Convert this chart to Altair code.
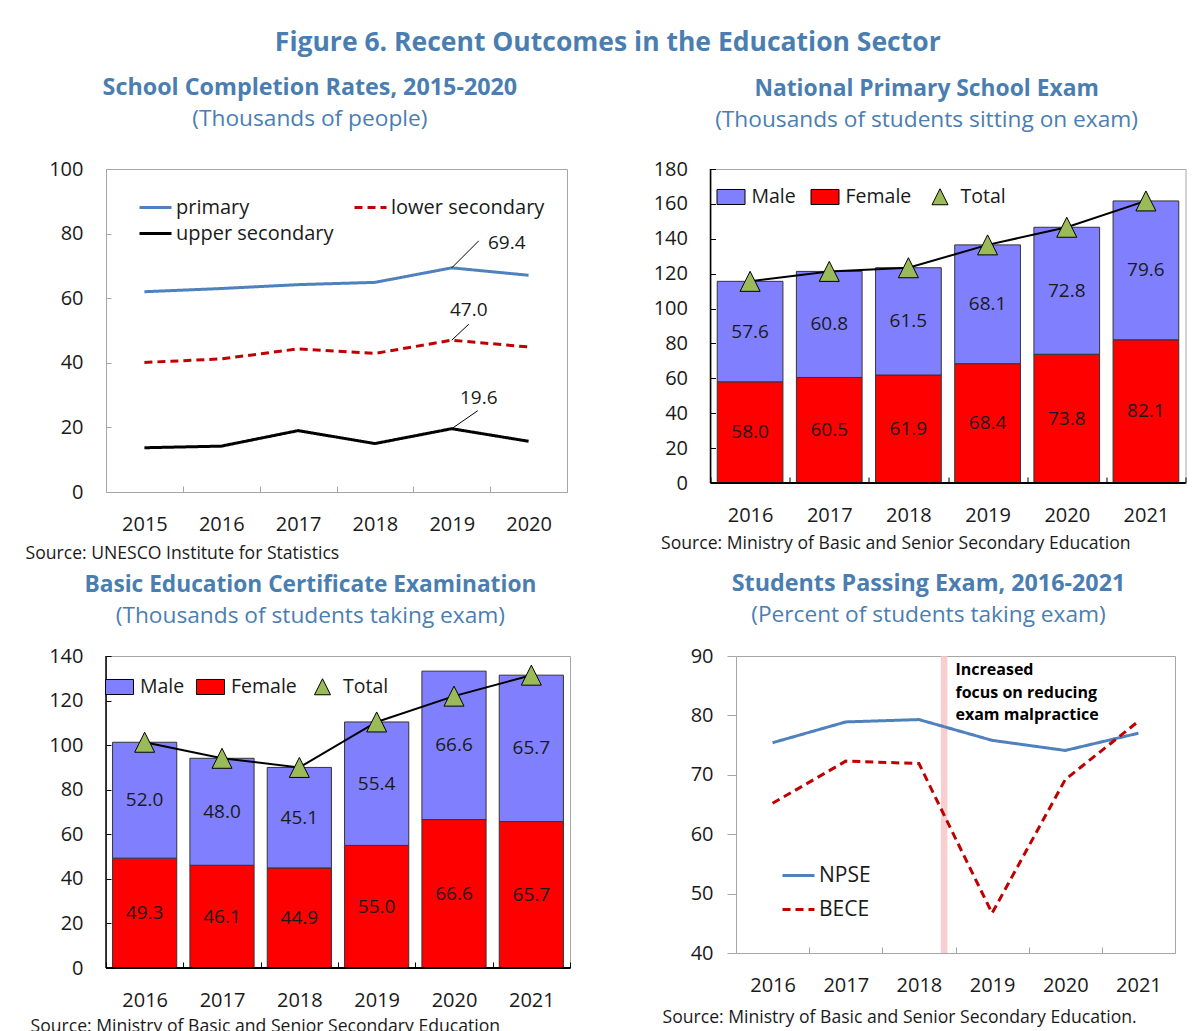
import altair as alt
import pandas as pd

FONT = "Open Sans"
TITLE_BLUE = "#4A7EB1"
FRAME_GRAY = "#A6A6A6"
TEXT = "#1A1A1A"

# ---------------- data ----------------
# Panel 1: School completion rates (thousands of people)
years_p1 = ["2015", "2016", "2017", "2018", "2019", "2020"]
series_p1 = ["primary", "upper secondary", "lower secondary"]
primary = [62.0, 63.0, 64.2, 64.9, 69.4, 67.1]
upper_secondary = [13.7, 14.2, 19.0, 15.0, 19.6, 15.7]
lower_secondary = [40.1, 41.2, 44.3, 42.9, 47.0, 44.9]
label_year_p1 = "2019"

# Panel 2: National Primary School Exam (thousands sitting)
years_p2 = ["2016", "2017", "2018", "2019", "2020", "2021"]
npse_male = [57.6, 60.8, 61.5, 68.1, 72.8, 79.6]
npse_female = [58.0, 60.5, 61.9, 68.4, 73.8, 82.1]
npse_total = [115.6, 121.3, 123.4, 136.5, 146.6, 161.7]

# Panel 3: Basic Education Certificate Examination (thousands taking)
years_p3 = ["2016", "2017", "2018", "2019", "2020", "2021"]
bece_male = [52.0, 48.0, 45.1, 55.4, 66.6, 65.7]
bece_female = [49.3, 46.1, 44.9, 55.0, 66.6, 65.7]
bece_total = [101.3, 94.1, 90.0, 110.4, 122.0, 131.4]

# Panel 4: Students passing exam (percent)
years_p4 = ["2016", "2017", "2018", "2019", "2020", "2021"]
series_p4 = ["NPSE", "BECE"]
pass_npse = [75.4, 78.9, 79.3, 75.8, 74.1, 77.0]
pass_bece = [65.2, 72.3, 71.9, 46.7, 69.2, 79.0]
event_start = [2018.30]
event_end = [2018.39]
event_text = ["Increased", "focus on reducing", "exam malpractice"]

series_bar = ["Male", "Female", "Total"]

# ---------------- helpers ----------------
def panel_title(text, sub, dx, offset, size=23.3):
    return alt.TitleParams(
        text=text, subtitle=sub, anchor="middle", frame="group", dx=dx, offset=offset,
        fontSize=size, fontWeight="bold", color=TITLE_BLUE,
        subtitleFontSize=22.7, subtitleFontWeight="normal", subtitleColor=TITLE_BLUE,
        subtitlePadding=8, font=FONT, subtitleFont=FONT,
    )


def x_band_axis(source, title_x, title_y, tick_color):
    return alt.Axis(
        title=source, labelAngle=0, domain=False, ticks=True, tickBand="extent",
        tickSize=6, offset=-6, tickColor=tick_color, labelPadding=22,
        labelFontSize=20, labelColor=TEXT, titleAnchor="start", titleAlign="left",
        titleX=title_x, titleY=title_y, titleFontSize=17.6, titleFontWeight="normal",
        titleColor=TEXT, titleBaseline="middle",
    )


def y_in_axis(values, tick_color):
    return alt.Axis(
        values=values, title=None, domain=False, grid=False, tickSize=5, offset=-5,
        tickColor=tick_color, labelPadding=23, labelFontSize=20, labelColor=TEXT,
        labelOverlap=False,
    )


rect_path = "M-0.875,-0.47H0.875V0.47H-0.875Z"
tri_path = "M0,-0.5L0.5,0.5L-0.5,0.5Z"
bar_colors = alt.Scale(domain=series_bar, range=["#8080FF", "#FF0000", "#9BBB59"])
bar_shapes = alt.Scale(domain=series_bar, range=[rect_path, rect_path, tri_path])

# ---------------- panel 1 ----------------
df1 = pd.DataFrame({
    "year": years_p1 * 3,
    "series": [s for s in series_p1 for _ in years_p1],
    "value": primary + upper_secondary + lower_secondary,
})
W1, H1 = 461, 323
x1 = alt.X("year:N", sort=years_p1, scale=alt.Scale(paddingInner=0, paddingOuter=0),
           axis=x_band_axis("Source: UNESCO Institute for Statistics", -81, 67, FRAME_GRAY))
y1 = alt.Y("value:Q", scale=alt.Scale(domain=[0, 100], nice=False),
           axis=y_in_axis([0, 20, 40, 60, 80, 100], FRAME_GRAY))
leg1 = alt.Legend(title=None, orient="none", legendX=32, legendY=28, columns=2,
                  labelFontSize=20, labelColor=TEXT, symbolType="stroke", symbolSize=1024,
                  symbolStrokeWidth=3, labelOffset=3, columnPadding=19, rowPadding=5,
                  clipHeight=21, labelLimit=400)
base1 = alt.Chart(df1).encode(x=x1, y=y1)
lines1 = base1.mark_line(strokeWidth=3).encode(
    color=alt.Color("series:N", scale=alt.Scale(domain=series_p1, range=["#4F81BD", "#000000", "#C00000"]), legend=leg1),
    strokeDash=alt.StrokeDash("series:N", scale=alt.Scale(domain=series_p1, range=[[1, 0], [1, 0], [8, 5]]), legend=leg1),
)
ann_specs = [("primary", 55, -25, 27, -27), ("lower secondary", 17, -30, 17, -16), ("upper secondary", 27, -31, 26, -18)]
ann_layers = []
for s, tdx, tdy, lx, ly in ann_specs:
    f = (alt.datum.series == s) & (alt.datum.year == label_year_p1)
    ann_layers.append(base1.mark_rule(color="black", strokeWidth=1, x2Offset=lx, y2Offset=ly)
                      .encode(x2="year:N", y2="value:Q").transform_filter(f))
    ann_layers.append(base1.mark_text(dx=tdx, dy=tdy, fontSize=19, color=TEXT)
                      .encode(text=alt.Text("value:Q", format=".1f")).transform_filter(f))
p1 = alt.layer(lines1, *ann_layers).properties(
    width=W1, height=H1,
    title=panel_title("School Completion Rates, 2015-2020", "(Thousands of people)", -26.6, 27.5),
)

# ---------------- bar panels ----------------
def bar_panel(years, male, female, total, ymax, width, height, src_x, src_y, title, sub, dx,
              offset, tsize, leg_x, leg_y, leg_pad):
    bars = pd.DataFrame({
        "year": years * 2,
        "series": ["Female"] * len(years) + ["Male"] * len(years),
        "value": female + male,
        "ord": [0] * len(years) + [1] * len(years),
        "mid": [f / 2 for f in female] + [f + m / 2 for f, m in zip(female, male)],
    })
    tot = pd.DataFrame({"year": years, "series": ["Total"] * len(years), "total": total})
    xaxis = x_band_axis("Source: Ministry of Basic and Senior Secondary Education", src_x, src_y, "black")
    xscale = alt.Scale(paddingInner=0, paddingOuter=0)
    yscale = alt.Scale(domain=[0, ymax], nice=False)
    yaxis = y_in_axis(list(range(0, ymax + 1, 20)), "black")

    def X():
        return alt.X("year:N", sort=years, scale=xscale, axis=xaxis)

    def Y(field, **kw):
        return alt.Y(field, scale=yscale, axis=yaxis, **kw)

    leg = alt.Legend(title=None, orient="none", legendX=leg_x, legendY=leg_y, direction="horizontal",
                     labelFontSize=19.5, labelColor=TEXT, symbolSize=1024, symbolStrokeColor="black",
                     symbolStrokeWidth=1, labelOffset=4, columnPadding=leg_pad, labelLimit=300)
    b = alt.Chart(bars).mark_bar(width={"band": 0.83}, stroke="#333333", strokeWidth=1).encode(
        x=X(), y=Y("value:Q", stack="zero"),
        color=alt.Color("series:N", scale=bar_colors, legend=leg),
        order=alt.Order("ord:Q"),
    )
    t = alt.Chart(bars).mark_text(fontSize=19, color=TEXT).encode(
        x=X(), y=Y("mid:Q"), text=alt.Text("value:Q", format=".1f"))
    ln = alt.Chart(tot).mark_line(color="black", strokeWidth=2).encode(x=X(), y=Y("total:Q"))
    pt = alt.Chart(tot).mark_point(filled=True, stroke="black", strokeWidth=1, size=1600, opacity=1).encode(
        x=X(), y=Y("total:Q"),
        color=alt.Color("series:N", scale=bar_colors, legend=leg),
        shape=alt.Shape("series:N", scale=bar_shapes, legend=leg),
    )
    one = pd.DataFrame({"a": [0]})
    left = alt.Chart(one).mark_rule(color="black", strokeWidth=1.5).encode(x=alt.value(0))
    bottom = alt.Chart(one).mark_rule(color="black", strokeWidth=2).encode(y=Y("a:Q"))
    return alt.layer(b, t, ln, pt, left, bottom).properties(
        width=width, height=height, title=panel_title(title, sub, dx, offset, tsize))


p2 = bar_panel(years_p2, npse_male, npse_female, npse_total, 180, 475, 314, -50, 66,
               "National Primary School Exam", "(Thousands of students sitting on exam)",
               -21.4, 27.5, 22.8, 4, 11, 12)
p3 = bar_panel(years_p3, bece_male, bece_female, bece_total, 140, 464, 312, -76, 64,
               "Basic Education Certificate Examination", "(Thousands of students taking exam)",
               -27.6, 18.5, 22.7, -3, 14, 9)

# ---------------- panel 4 ----------------
df4 = pd.DataFrame({
    "year": years_p4 * 2,
    "series": [s for s in series_p4 for _ in years_p4],
    "value": pass_npse + pass_bece,
})
W4, H4 = 439, 297
yscale4 = alt.Scale(domain=[40, 90], nice=False, zero=False)
y4axis = alt.Axis(values=[40, 50, 60, 70, 80, 90], title=None, domain=False, grid=False,
                  tickSize=9, tickColor=FRAME_GRAY, labelPadding=14, labelFontSize=20,
                  labelColor=TEXT, labelOverlap=False)
x4 = alt.X("year:N", sort=years_p4, scale=alt.Scale(paddingInner=0, paddingOuter=0),
           axis=x_band_axis("Source: Ministry of Basic and Senior Secondary Education.", -74, 70, FRAME_GRAY))
y4 = alt.Y("value:Q", scale=yscale4, axis=y4axis)
leg4 = alt.Legend(title=None, orient="none", legendX=45, legendY=202, direction="vertical",
                  labelFontSize=21, labelColor=TEXT, symbolType="stroke", symbolSize=1024,
                  symbolStrokeWidth=3, labelOffset=3, rowPadding=6, labelLimit=300)
lines4 = alt.Chart(df4).mark_line(strokeWidth=3).encode(
    x=x4, y=y4,
    color=alt.Color("series:N", scale=alt.Scale(domain=series_p4, range=["#4F81BD", "#C00000"]), legend=leg4),
    strokeDash=alt.StrokeDash("series:N", scale=alt.Scale(domain=series_p4, range=[[1, 0], [8, 5]]), legend=leg4),
)
ev = pd.DataFrame({"start": event_start, "end": event_end})
qx = alt.Scale(domain=[2015.5, 2021.5], nice=False, zero=False)
band4 = alt.Chart(ev).mark_rect(color="#F7C6C6", opacity=0.85).encode(
    x=alt.X("start:Q", scale=qx, axis=None), x2="end:Q")
ann4 = pd.DataFrame({"tx": [2018.5], "ty": [87.6], "label": ["\n".join(event_text)]})
text4 = alt.Chart(ann4).mark_text(align="left", baseline="middle", fontWeight="bold", fontSize=16,
                                  lineHeight=22.5, lineBreak="\n", color="black").encode(
    x=alt.X("tx:Q", scale=qx, axis=None), y=alt.Y("ty:Q", scale=yscale4, axis=y4axis), text="label:N")
p4 = alt.layer(band4, text4, lines4).resolve_scale(x="independent").properties(
    width=W4, height=H4,
    title=panel_title("Students Passing Exam, 2016-2021", "(Percent of students taking exam)", -27, 18.5),
)

indep = dict(color="independent", strokeDash="independent", shape="independent")
row1 = alt.hconcat(p1, p2, spacing=84.5).resolve_scale(**indep)
row2 = alt.hconcat(p3, p4, spacing=89).resolve_scale(**indep)
chart = alt.vconcat(row1, row2, spacing=8).resolve_scale(**indep).properties(
    title=alt.TitleParams("Figure 6. Recent Outcomes in the Education Sector", fontSize=26.5,
                          fontWeight="bold", color=TITLE_BLUE, anchor="middle", dx=2, offset=19,
                          font=FONT),
    padding={"left": 16, "top": 21, "right": 0, "bottom": 0},
).configure(font=FONT).configure_view(stroke=FRAME_GRAY, strokeWidth=1)

chart.save("out.html", embed_options={"renderer": "svg", "actions": False})
